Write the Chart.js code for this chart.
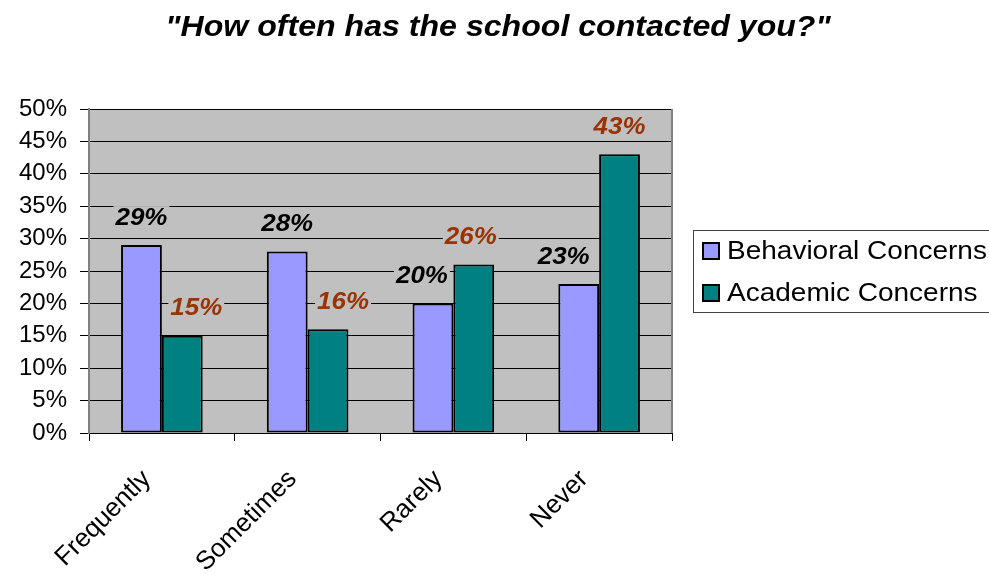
<!DOCTYPE html>
<html>
<head>
<meta charset="utf-8">
<script src="https://cdn.jsdelivr.net/npm/chart.js@4.4.1/dist/chart.umd.min.js"></script>
<style>
  html, body { margin: 0; padding: 0; background: #fff; }
  #wrap { width: 989px; height: 574px; position: relative; }
</style>
</head>
<body>
<div id="wrap"><canvas id="myChart" width="989" height="574"></canvas></div>
<script>
// data
const categories = ["Frequently", "Sometimes", "Rarely", "Never"];
const behavioral = [29, 28, 20, 23];
const academic = [15, 16, 26, 43];
const seriesNames = ["Behavioral Concerns", "Academic Concerns"];
const titleText = '"How often has the school contacted you?"';

const FONT = "'Liberation Sans', Arial, sans-serif";

// draw text a bit wider than the font (the original looks stretched)
function wideText(ctx, txt, x, y, sx) {
  ctx.save();
  ctx.translate(x, y);
  ctx.scale(sx, 1);
  ctx.fillText(txt, 0, 0);
  ctx.restore();
}

// plot background + frame
const plotBg = {
  id: "plotBg",
  beforeDraw(chart) {
    const { ctx, chartArea: a } = chart;
    ctx.save();
    ctx.fillStyle = "#c0c0c0";
    ctx.fillRect(a.left, a.top, a.right - a.left, a.bottom - a.top);
    ctx.restore();
  },
  beforeDatasetsDraw(chart) {
    const { ctx, chartArea: a } = chart;
    ctx.save();
    ctx.strokeStyle = "#808080";
    ctx.lineWidth = 2;
    ctx.beginPath();
    ctx.moveTo(a.right, a.top);
    ctx.lineTo(a.right, a.bottom);
    ctx.stroke();
    ctx.restore();
  },
};

// title + legend
const extras = {
  id: "extras",
  afterDraw(chart) {
    const ctx = chart.ctx;
    ctx.save();
    ctx.fillStyle = "#000";
    ctx.font = "italic bold 30px " + FONT;
    ctx.textAlign = "center";
    ctx.textBaseline = "alphabetic";
    wideText(ctx, titleText, 498, 36, 1.07);

    // legend box
    ctx.strokeStyle = "#404040";
    ctx.lineWidth = 1;
    ctx.strokeRect(693.5, 230.5, 310, 82);
    ctx.font = "25px " + FONT;
    ctx.textAlign = "left";
    ctx.textBaseline = "middle";
    chart.data.datasets.forEach((ds, i) => {
      const y = 251 + i * 42;
      ctx.fillStyle = ds.backgroundColor;
      ctx.fillRect(703, y - 8, 16, 16);
      ctx.strokeStyle = "#000";
      ctx.lineWidth = 2;
      ctx.strokeRect(703, y - 8, 16, 16);
      ctx.fillStyle = "#000";
      wideText(ctx, ds.label, 727, y + 1, 1.12);
    });
    ctx.restore();
  },
};

// value labels above bars (some nudged sideways like in the original)
const labelShift = [
  [0, 0, -11, -15],
  [14, 15, -3, 0],
];
const valueLabels = {
  id: "valueLabels",
  afterDatasetsDraw(chart) {
    const ctx = chart.ctx;
    ctx.save();
    ctx.font = "italic bold 24px " + FONT;
    ctx.textAlign = "center";
    ctx.textBaseline = "middle";
    chart.data.datasets.forEach((ds, i) => {
      const meta = chart.getDatasetMeta(i);
      meta.data.forEach((bar, j) => {
        const txt = ds.data[j] + "%";
        const x = bar.x + labelShift[i][j];
        const y = bar.y - 27;
        const w = ctx.measureText(txt).width * 1.08 + 4;
        ctx.fillStyle = "#c0c0c0";
        ctx.fillRect(x - w / 2, y - 12, w, 24);
        ctx.fillStyle = i === 0 ? "#000000" : "#993300";
        wideText(ctx, txt, x, y, 1.08);
      });
    });
    ctx.restore();
  },
};

const ctx = document.getElementById("myChart").getContext("2d");
const myChart = new Chart(ctx, {
  type: "bar",
  data: {
    labels: categories,
    datasets: [
      {
        label: seriesNames[0],
        data: behavioral,
        backgroundColor: "#9999ff",
        borderColor: "#000",
        borderWidth: 2,
        borderSkipped: false,
      },
      {
        label: seriesNames[1],
        data: academic,
        backgroundColor: "#008080",
        borderColor: "#000",
        borderWidth: 2,
        borderSkipped: false,
      },
    ],
  },
  options: {
    responsive: false,
    animation: false,
    devicePixelRatio: 1,
    layout: { padding: { top: 109, right: 317, left: 0, bottom: 0 } },
    datasets: {
      bar: { categoryPercentage: 0.56, barPercentage: 1 },
    },
    plugins: {
      legend: { display: false },
      tooltip: { enabled: false },
    },
    scales: {
      x: {
        afterFit(scale) { scale.height = 141; },
        grid: {
          offset: true,
          drawOnChartArea: false,
          drawTicks: true,
          tickLength: 8,
          tickColor: "#000",
        },
        border: { color: "#000", width: 1 },
        ticks: {
          color: "#000",
          font: { family: FONT, size: 26 },
          maxRotation: 45,
          minRotation: 45,
          padding: 23,
          labelOffset: -15,
        },
      },
      y: {
        min: 0,
        max: 50,
        afterFit(scale) { scale.width = 89; },
        grid: {
          color: "#000",
          lineWidth: 1,
          drawTicks: true,
          tickLength: 9,
          tickColor: "#000",
        },
        border: { color: "#808080", width: 2 },
        ticks: {
          stepSize: 5,
          color: "#000",
          font: { family: FONT, size: 24 },
          padding: 13,
          callback: (v) => v + "%",
        },
      },
    },
  },
  plugins: [plotBg, valueLabels, extras],
});
</script>
</body>
</html>
